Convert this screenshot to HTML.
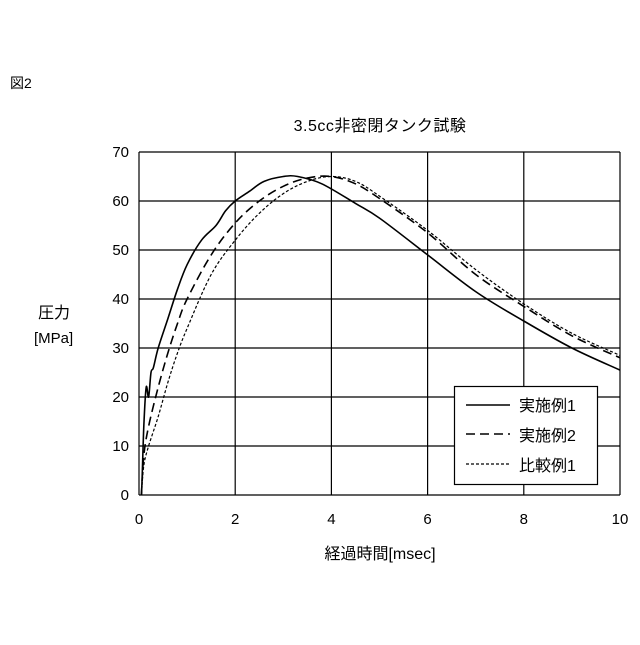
<!DOCTYPE html>
<html><head><meta charset="utf-8"><style>
body{margin:0;background:#fff;width:640px;height:640px;overflow:hidden}
text{font-family:"Liberation Sans","Noto Sans CJK JP",sans-serif;fill:#000}
</style></head><body>
<svg id="s" width="640" height="640" xmlns="http://www.w3.org/2000/svg">
<defs><clipPath id="cp"><rect x="139" y="140" width="482" height="355"/></clipPath></defs>
<rect width="640" height="640" fill="#fff"/>
<text x="10" y="88" font-size="14">図2</text>
<text x="380" y="131" font-size="16" text-anchor="middle" letter-spacing="0.5">3.5cc非密閉タンク試験</text>
<g id="grid" stroke="#000" stroke-width="1.2" fill="none"></g>
<g id="ticks" font-size="15"></g>
<text x="38" y="318" font-size="16">圧力</text>
<text x="34" y="343" font-size="15">[MPa]</text>
<text x="380" y="559" font-size="16" text-anchor="middle">経過時間[msec]</text>
<g id="curves" fill="none" stroke="#000" clip-path="url(#cp)"></g>
<rect x="454.5" y="386.5" width="143" height="98" fill="#fff" stroke="#000" stroke-width="1.2"/>
<line x1="466" y1="405" x2="510" y2="405" stroke="#000" stroke-width="1.6"/>
<line x1="466" y1="434" x2="510" y2="434" stroke="#000" stroke-width="1.6" stroke-dasharray="9,5"/>
<line x1="466" y1="464" x2="510" y2="464" stroke="#000" stroke-width="1.2" stroke-dasharray="3,2"/>
<text x="519" y="411" font-size="16">実施例1</text>
<text x="519" y="441" font-size="16">実施例2</text>
<text x="519" y="471" font-size="16">比較例1</text>
</svg>
<script>
var X=function(v){return 139+v*48.1},Y=function(v){return 495-v*4.9};
var g=document.getElementById('grid'),t=document.getElementById('ticks'),ns='http://www.w3.org/2000/svg';
function el(p,n,a,txt){var e=document.createElementNS(ns,n);for(var k in a)e.setAttribute(k,a[k]);if(txt!=null)e.textContent=txt;p.appendChild(e);return e}
for(var i=0;i<=7;i++){el(g,'line',{x1:139,x2:620,y1:Y(i*10),y2:Y(i*10)});el(t,'text',{x:129,y:Y(i*10)+5,'text-anchor':'end'},i*10)}
for(var j=0;j<=5;j++){el(g,'line',{x1:X(j*2),x2:X(j*2),y1:152,y2:495});el(t,'text',{x:X(j*2),y:524,'text-anchor':'middle'},j*2)}
var s1=[[0,0],[0.05,0],[0.1,14],[0.15,22],[0.2,20],[0.25,25],[0.3,26],[0.4,30],[0.6,36],[0.8,42],[1,47],[1.3,52],[1.6,55],[1.8,58],[2,60],[2.3,62],[2.6,64],[3,65],[3.3,65],[3.8,63.5],[4.5,59.5],[5,56.5],[6,49],[7,41.5],[8,35.5],[9,30],[10,25.5]];
var s2=[[0.05,0],[0.1,8],[0.2,14],[0.4,22],[0.6,29],[0.8,35],[1,40],[1.5,49],[2,55.5],[2.5,60],[3,63],[3.5,64.7],[4,65],[4.5,63.5],[5,60.5],[6,53.5],[7,45],[8,38.5],[9,32.5],[10,28]];
var s3=[[0.05,0],[0.1,6],[0.2,10],[0.4,16],[0.6,23],[0.8,29],[1,34],[1.5,45],[2,52],[2.5,57.5],[3,61.5],[3.5,64],[4,65],[4.5,64],[5,61],[6,54],[7,46],[8,39],[9,33],[10,28.5]];
function pth(s){var p=s.map(function(q){return[X(q[0]),Y(q[1])]});var d='M'+p[0][0].toFixed(1)+' '+p[0][1].toFixed(1);
for(var i=0;i<p.length-1;i++){var a=p[i-1]||p[i],b=p[i],c=p[i+1],e=p[i+2]||c;
var c1=[b[0]+(c[0]-a[0])/6,b[1]+(c[1]-a[1])/6],c2=[c[0]-(e[0]-b[0])/6,c[1]-(e[1]-b[1])/6];
d+='C'+c1[0].toFixed(1)+' '+c1[1].toFixed(1)+' '+c2[0].toFixed(1)+' '+c2[1].toFixed(1)+' '+c[0].toFixed(1)+' '+c[1].toFixed(1)}return d}
var c=document.getElementById('curves');
el(c,'path',{d:pth(s1),'stroke-width':1.6});
el(c,'path',{d:pth(s2),'stroke-width':1.6,'stroke-dasharray':'9,5'});
el(c,'path',{d:pth(s3),'stroke-width':1.2,'stroke-dasharray':'3,2'});
</script>
</body></html>
